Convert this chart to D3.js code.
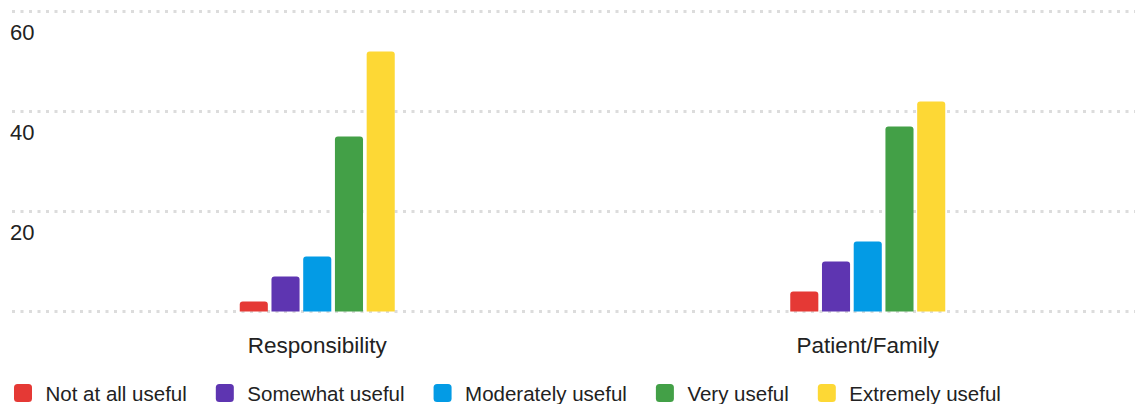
<!DOCTYPE html>
<html>
<head>
<meta charset="utf-8">
<script src="https://cdn.jsdelivr.net/npm/d3@7.9.0/dist/d3.min.js"></script>
<style>
  html, body { margin: 0; padding: 0; background: #fff; }
  svg { display: block; font-family: "Liberation Sans", Arial, sans-serif; }
</style>
</head>
<body>
<svg id="chart" width="1135" height="404"></svg>
<script>
const categories = ['Responsibility', 'Patient/Family'];
const seriesNames = ['Not at all useful', 'Somewhat useful', 'Moderately useful', 'Very useful', 'Extremely useful'];
const seriesColors = ['#e53935', '#5e35b1', '#039be5', '#43a047', '#fdd835'];
const notAtAll = [2, 4];
const somewhat = [7, 10];
const moderately = [11, 14];
const very = [35, 37];
const extremely = [52, 42];
const yTicks = [20, 40, 60];

const seriesValues = [notAtAll, somewhat, moderately, very, extremely];

const svg = d3.select('#chart');
const width = 1135;

let x0 = d3.scaleBand().domain(categories).range([42, 1143]).padding(0);
let x1 = d3.scaleBand().domain(seriesNames).range([0, 155]).paddingInner(0.115).paddingOuter(0);
let y = d3.scaleLinear().domain([0, 60]).range([311.5, 11.5]);

// gridlines
svg.append('g')
  .selectAll('line')
  .data([0, ...yTicks])
  .join('line')
  .attr('x1', 12)
  .attr('x2', width)
  .attr('y1', (d) => y(d))
  .attr('y2', (d) => y(d))
  .attr('stroke', '#dcdcdc')
  .attr('stroke-width', 3)
  .attr('stroke-dasharray', '3,5.5');

// y tick labels sit just below their line
svg.append('g')
  .selectAll('text')
  .data(yTicks)
  .join('text')
  .attr('x', 10)
  .attr('y', (d) => y(d) + 28)
  .attr('font-size', 22)
  .attr('fill', '#222')
  .text((d) => d);

function topRounded(x, yTop, w, h, r) {
  r = Math.min(r, h / 2, w / 2);
  return `M${x},${yTop + h}V${yTop + r}Q${x},${yTop} ${x + r},${yTop}H${x + w - r}Q${x + w},${yTop} ${x + w},${yTop + r}V${yTop + h}Z`;
}

categories.forEach((cat, ci) => {
  let g = svg.append('g')
    .attr('transform', `translate(${x0(cat) + x0.bandwidth() / 2 - 77.5},0)`);
  seriesNames.forEach((name, si) => {
    let v = seriesValues[si][ci];
    g.append('path')
      .attr('d', topRounded(x1(name), y(v), x1.bandwidth(), y(0) - y(v), 3))
      .attr('fill', seriesColors[si]);
  });
  svg.append('text')
    .attr('x', x0(cat) + x0.bandwidth() / 2)
    .attr('y', 353)
    .attr('text-anchor', 'middle')
    .attr('font-size', 22.5)
    .attr('fill', '#222')
    .text(cat);
});

// legend
let legend = svg.append('g');
let lx = 14;
seriesNames.forEach((name, i) => {
  legend.append('rect')
    .attr('x', lx)
    .attr('y', 384)
    .attr('width', 18)
    .attr('height', 18)
    .attr('rx', 3.5)
    .attr('fill', seriesColors[i]);
  let t = legend.append('text')
    .attr('x', lx + 31.5)
    .attr('y', 400.5)
    .attr('font-size', 20.5)
    .attr('fill', '#222')
    .text(name);
  lx += 31.5 + t.node().getComputedTextLength() + 29;
});
</script>
</body>
</html>
